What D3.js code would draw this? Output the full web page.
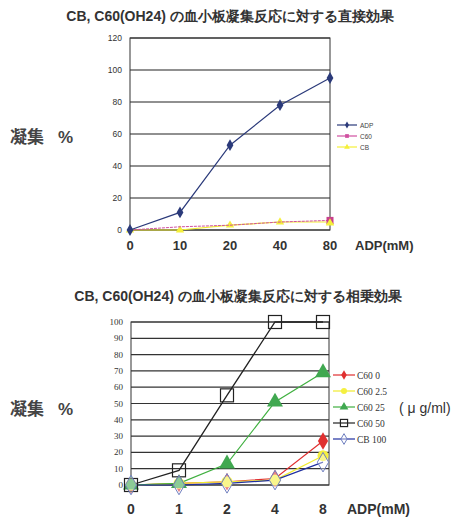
<!DOCTYPE html>
<html>
<head>
<meta charset="utf-8">
<script src="https://cdn.jsdelivr.net/npm/d3@7"></script>
<style>
  body { margin: 0; background: #fff; }
  svg { display: block; }
  .ttl { font-family: "Liberation Sans", Arial, sans-serif; font-weight: bold; font-size: 14px; fill: #333; }
  .ylab { font-family: "Noto Sans CJK JP", sans-serif; font-weight: bold; font-size: 17px; fill: #444; }
  .xt { font-family: "Liberation Sans", Arial, sans-serif; font-weight: bold; font-size: 13px; fill: #333; }
</style>
</head>
<body>
<div id="chart"></div>
<script>
// top chart data
var topCats = ["0", "10", "20", "40", "80"];
var topTicks = [0, 20, 40, 60, 80, 100, 120];
var adp = [0, 11, 53, 78, 95];
var c60 = [0, 2, 3, 5, 6];
var cb = [0, 0, 3, 5, 5];
var topNames = ["ADP", "C60", "CB"];

// bottom chart data
var botCats = ["0", "1", "2", "4", "8"];
var botTicks = [0, 10, 20, 30, 40, 50, 60, 70, 80, 90, 100];
var c60_0 = [0, 1, 2, 4, 27];
var c60_25b = [0, 1, 2, 3, 18];
var c60_25 = [0, 1, 13, 51, 69];
var c60_50 = [0, 9, 55, 100, 100];
var cb_100 = [0, 0, 1, 3, 14];
var botNames = ["C60 0", "C60 2.5", "C60 25", "C60 50", "CB  100"];

var svg = d3.select("#chart").append("svg").attr("width", 453).attr("height", 524);

// ---------- top chart ----------
var x1 = d3.scalePoint().domain(topCats).range([130, 330]);
var y1 = d3.scaleLinear().domain([0, 120]).range([230, 38]);

svg.append("text").attr("class", "ttl").attr("x", 230).attr("y", 21)
  .attr("text-anchor", "middle").text("CB, C60(OH24) の血小板凝集反応に対する直接効果");

var g1 = svg.append("g");
g1.selectAll("line.grid").data(topTicks).enter().append("line")
  .attr("x1", 130).attr("x2", 330)
  .attr("y1", function(d) { return y1(d); }).attr("y2", function(d) { return y1(d); })
  .style("stroke", "#222").style("stroke-width", 1.2);
g1.append("rect").attr("x", 130).attr("y", 38).attr("width", 200).attr("height", 192)
  .style("fill", "none").style("stroke", "#333").style("stroke-width", 1);

g1.selectAll("text.yt").data(topTicks).enter().append("text")
  .attr("x", 122).attr("y", function(d) { return y1(d) + 3; })
  .attr("text-anchor", "end")
  .style("font-family", "Liberation Sans, Arial, sans-serif").style("font-size", "8.5px").style("fill", "#333")
  .text(function(d) { return d; });

g1.selectAll("text.xt").data(topCats).enter().append("text").attr("class", "xt")
  .attr("x", function(d) { return x1(d); }).attr("y", 250)
  .attr("text-anchor", "middle").text(function(d) { return d; });
svg.append("text").attr("class", "xt").attr("x", 355).attr("y", 250).text("ADP(mM)");

svg.append("text").attr("class", "ylab").attr("x", 10).attr("y", 143).text("凝集");
svg.append("text").attr("class", "ylab").attr("x", 58).attr("y", 143)
  .style("font-family", "Liberation Sans, Arial, sans-serif").text("%");

var line1 = d3.line().x(function(d, i) { return x1(topCats[i]); }).y(function(d) { return y1(d); });

// CB (yellow)
g1.append("path").attr("d", line1(cb)).style("fill", "none").style("stroke", "#f2ee30").style("stroke-width", 1.2);
g1.selectAll("path.cbm").data(cb).enter().append("path")
  .attr("d", d3.symbol(d3.symbolTriangle, 30))
  .attr("transform", function(d, i) { return "translate(" + x1(topCats[i]) + "," + y1(d) + ")"; })
  .style("fill", "#f5f03a");
// C60 (magenta)
g1.append("path").attr("d", line1(c60)).style("fill", "none").style("stroke", "#d050a0").style("stroke-width", 1).style("stroke-dasharray", "3,1");
g1.selectAll("rect.c60m").data(c60).enter().append("rect")
  .attr("x", function(d, i) { return x1(topCats[i]) - 3.5; })
  .attr("y", function(d) { return y1(d) - 3.5; })
  .attr("width", 7).attr("height", 7)
  .style("fill", function(d, i) { return i == 4 ? "#c8408c" : "none"; });
// CB triangle at the end drawn on top
g1.append("path").attr("d", d3.symbol(d3.symbolTriangle, 30))
  .attr("transform", "translate(" + x1("80") + "," + (y1(cb[4]) + 1) + ")").style("fill", "#f5f03a");
// ADP (navy)
g1.append("path").attr("d", line1(adp)).style("fill", "none").style("stroke", "#2b3a7a").style("stroke-width", 1.2);
g1.selectAll("path.adpm").data(adp).enter().append("path")
  .attr("d", d3.symbol(d3.symbolDiamond, 40))
  .attr("transform", function(d, i) { return "translate(" + x1(topCats[i]) + "," + y1(d) + ")"; })
  .style("fill", "#2b3a7a");

// top legend
var legTop = [
  { c: "#2b3a7a", sym: d3.symbolDiamond },
  { c: "#d050a0", sym: d3.symbolSquare },
  { c: "#f5f03a", sym: d3.symbolTriangle }
];
legTop.forEach(function(l, i) {
  var ly = 125 + i * 11;
  svg.append("line").attr("x1", 337).attr("x2", 357).attr("y1", ly).attr("y2", ly)
    .style("stroke", l.c).style("stroke-width", 1.2);
  svg.append("path").attr("d", d3.symbol(l.sym, 14)).attr("transform", "translate(347," + ly + ")").style("fill", l.c);
  svg.append("text").attr("x", 360).attr("y", ly + 2.5)
    .style("font-family", "Liberation Sans, Arial, sans-serif").style("font-size", "6.5px").style("fill", "#444")
    .text(topNames[i]);
});

// ---------- bottom chart ----------
var x2 = d3.scalePoint().domain(botCats).range([131, 323]);
var y2 = d3.scaleLinear().domain([0, 100]).range([485, 322]);

svg.append("text").attr("class", "ttl").attr("x", 238).attr("y", 301)
  .attr("text-anchor", "middle").text("CB, C60(OH24) の血小板凝集反応に対する相乗効果");

var g2 = svg.append("g");
g2.selectAll("line.grid").data(botTicks).enter().append("line")
  .attr("x1", 131).attr("x2", 329)
  .attr("y1", function(d) { return y2(d); }).attr("y2", function(d) { return y2(d); })
  .style("stroke", "#333").style("stroke-width", 1.2);
g2.append("rect").attr("x", 131).attr("y", 322).attr("width", 198).attr("height", 163)
  .style("fill", "none").style("stroke", "#333").style("stroke-width", 1);

g2.selectAll("text.yt").data(botTicks).enter().append("text")
  .attr("x", 123).attr("y", function(d) { return y2(d) + 3; })
  .attr("text-anchor", "end")
  .style("font-family", "Liberation Serif, Times New Roman, serif").style("font-size", "9px").style("fill", "#333")
  .text(function(d) { return d; });

g2.selectAll("text.xt").data(botCats).enter().append("text").attr("class", "xt")
  .attr("x", function(d) { return x2(d); }).attr("y", 514)
  .attr("text-anchor", "middle").style("font-size", "14px").text(function(d) { return d; });
svg.append("text").attr("class", "xt").attr("x", 347).attr("y", 514).style("font-size", "14px").text("ADP(mM)");

svg.append("text").attr("class", "ylab").attr("x", 10).attr("y", 415).text("凝集");
svg.append("text").attr("class", "ylab").attr("x", 58).attr("y", 415)
  .style("font-family", "Liberation Sans, Arial, sans-serif").text("%");

var line2 = d3.line().x(function(d, i) { return x2(botCats[i]); }).y(function(d) { return y2(d); });

var series = [
  { v: c60_0, c: "#e03030", sym: "diamond", fill: "#e03030", lw: 1.2 },
  { v: c60_25b, c: "#f0ec30", sym: "circle", fill: "#f5f040", lw: 1.2 },
  { v: c60_25, c: "#40b040", sym: "triangle", fill: "#40a850", lw: 1.2 },
  { v: c60_50, c: "#222", sym: "square", fill: "none", lw: 1.3 },
  { v: cb_100, c: "#2030a0", sym: "odiamond", fill: "none", lw: 1.2 }
];

function drawMark(g, s, cx, cy, big) {
  var k = big ? 1 : 0.55;
  if (s.sym == "diamond") {
    g.append("path").attr("d", d3.symbol(d3.symbolDiamond, 90 * k * k))
      .attr("transform", "translate(" + cx + "," + cy + ")").style("fill", s.fill);
  } else if (s.sym == "circle") {
    g.append("circle").attr("cx", cx).attr("cy", cy).attr("r", 5.5 * k).style("fill", s.fill);
  } else if (s.sym == "triangle") {
    g.append("path").attr("d", d3.symbol(d3.symbolTriangle, 110 * k * k))
      .attr("transform", "translate(" + cx + "," + cy + ")").style("fill", s.fill);
  } else if (s.sym == "square") {
    var h = 6.5 * k;
    g.append("rect").attr("x", cx - h).attr("y", cy - h).attr("width", 2 * h).attr("height", 2 * h)
      .style("fill", "none").style("stroke", "#222").style("stroke-width", 1.2);
  } else {
    g.append("path").attr("d", d3.symbol(d3.symbolDiamond, 110 * k * k))
      .attr("transform", "translate(" + cx + "," + cy + ")")
      .style("fill", "#fff").style("fill-opacity", 0.4).style("stroke", "#7080c0").style("stroke-width", 1);
  }
}

series.forEach(function(s) {
  g2.append("path").attr("d", line2(s.v)).style("fill", "none").style("stroke", s.c).style("stroke-width", s.lw);
});
series.forEach(function(s) {
  s.v.forEach(function(d, i) {
    drawMark(g2, s, x2(botCats[i]), y2(d), true);
  });
});

// bottom legend
series.forEach(function(s, i) {
  var ly = 375 + i * 16;
  svg.append("line").attr("x1", 333).attr("x2", 355).attr("y1", ly).attr("y2", ly)
    .style("stroke", s.c).style("stroke-width", 1.2);
  drawMark(svg, s, 344, ly, false);
  svg.append("text").attr("x", 357).attr("y", ly + 3.5)
    .style("font-family", "Liberation Serif, Times New Roman, serif").style("font-size", "9.5px").style("fill", "#333")
    .text(botNames[i]);
});
svg.append("text").attr("x", 399).attr("y", 413)
  .style("font-family", "Liberation Sans, Arial, sans-serif").style("font-size", "14px").style("fill", "#333")
  .text("( μ g/ml)");
</script>
</body>
</html>
